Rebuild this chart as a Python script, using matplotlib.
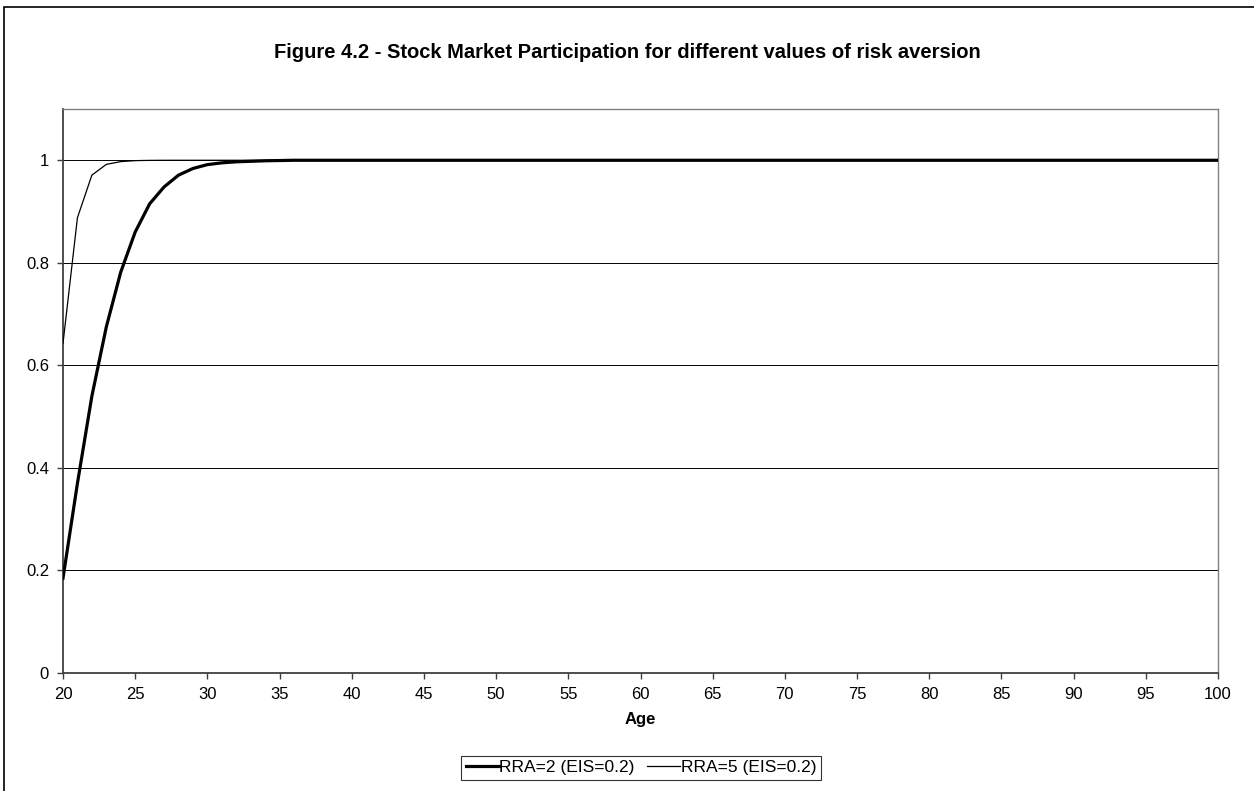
import matplotlib
matplotlib.use("Agg")
import matplotlib.pyplot as plt
from matplotlib.patches import Rectangle

plt.rcParams['font.family'] = ['Liberation Sans', 'DejaVu Sans']

# participation share by age, 20..100
age = list(range(20, 101))
rra2 = [0.185, 0.37, 0.54, 0.675, 0.782, 0.86, 0.915, 0.948, 0.971, 0.984,
        0.9915, 0.995, 0.997, 0.998, 0.999, 0.9995, 1.0, 1.0, 1.0, 1.0,
        1.0, 1.0, 1.0, 1.0, 1.0, 1.0, 1.0, 1.0, 1.0, 1.0,
        1.0, 1.0, 1.0, 1.0, 1.0, 1.0, 1.0, 1.0, 1.0, 1.0,
        1.0, 1.0, 1.0, 1.0, 1.0, 1.0, 1.0, 1.0, 1.0, 1.0,
        1.0, 1.0, 1.0, 1.0, 1.0, 1.0, 1.0, 1.0, 1.0, 1.0,
        1.0, 1.0, 1.0, 1.0, 1.0, 1.0, 1.0, 1.0, 1.0, 1.0,
        1.0, 1.0, 1.0, 1.0, 1.0, 1.0, 1.0, 1.0, 1.0, 1.0,
        1.0]
rra5 = [0.643, 0.888, 0.971, 0.992, 0.9974, 0.9993, 0.9998, 1.0, 1.0, 1.0,
        1.0, 1.0, 1.0, 1.0, 1.0, 1.0, 1.0, 1.0, 1.0, 1.0,
        1.0, 1.0, 1.0, 1.0, 1.0, 1.0, 1.0, 1.0, 1.0, 1.0,
        1.0, 1.0, 1.0, 1.0, 1.0, 1.0, 1.0, 1.0, 1.0, 1.0,
        1.0, 1.0, 1.0, 1.0, 1.0, 1.0, 1.0, 1.0, 1.0, 1.0,
        1.0, 1.0, 1.0, 1.0, 1.0, 1.0, 1.0, 1.0, 1.0, 1.0,
        1.0, 1.0, 1.0, 1.0, 1.0, 1.0, 1.0, 1.0, 1.0, 1.0,
        1.0, 1.0, 1.0, 1.0, 1.0, 1.0, 1.0, 1.0, 1.0, 1.0,
        1.0]
xticks = list(range(20, 101, 5))
yticks = [0, 0.2, 0.4, 0.6, 0.8, 1]
ylabels = ["0", "0.2", "0.4", "0.6", "0.8", "1"]

W, H = 1254, 791
fig = plt.figure(figsize=(W / 100, H / 100), dpi=100)
ax = fig.add_axes([63 / W, 1 - 673 / H, (1218 - 63) / W, (673 - 109) / H])

# outer chart frame (runs off the right and bottom edges)
fig.patches.append(Rectangle((4 / W, -0.05), 1.05, 1.05 - 7 / H, transform=fig.transFigure,
                             fill=False, edgecolor='black', linewidth=1.2))

ax.plot(age, rra2, color='black', linewidth=2.3, label='RRA=2 (EIS=0.2)', zorder=3)
ax.plot(age, rra5, color='black', linewidth=0.9, label='RRA=5 (EIS=0.2)', zorder=3)

ax.set_xlim(20, 100)
ax.set_ylim(0, 1.1)
ax.set_xticks(xticks)
ax.set_yticks(yticks)
ax.set_yticklabels(ylabels)
ax.yaxis.grid(True, color='black', linewidth=0.7)
ax.set_axisbelow(True)
ax.tick_params(axis='both', direction='out', length=4, width=1, color='#404040',
               labelsize=12)
ax.tick_params(axis='x', pad=6)
ax.tick_params(axis='y', pad=6)

for side in ('left', 'bottom'):
    ax.spines[side].set_color('#404040')
    ax.spines[side].set_linewidth(1.3)
for side in ('top', 'right'):
    ax.spines[side].set_color('#808080')
    ax.spines[side].set_linewidth(1.0)

ax.set_xlabel('Age', fontsize=12, fontweight='bold', labelpad=7)
fig.text(627 / W, 1 - 53 / H, 'Figure 4.2 - Stock Market Participation for different values of risk aversion',
         ha='center', va='center', fontsize=14.5, fontweight='bold')

leg = fig.legend(loc='upper center', bbox_to_anchor=(641 / W, 1 - 756 / H), ncol=2,
                 fontsize=12.5, frameon=True, fancybox=False, handlelength=1.9,
                 handletextpad=0.05, columnspacing=0.7, borderpad=0.25,
                 borderaxespad=0)
leg.get_frame().set_edgecolor('black')
leg.get_frame().set_linewidth(0.8)

fig.savefig('out.png', dpi=100)
